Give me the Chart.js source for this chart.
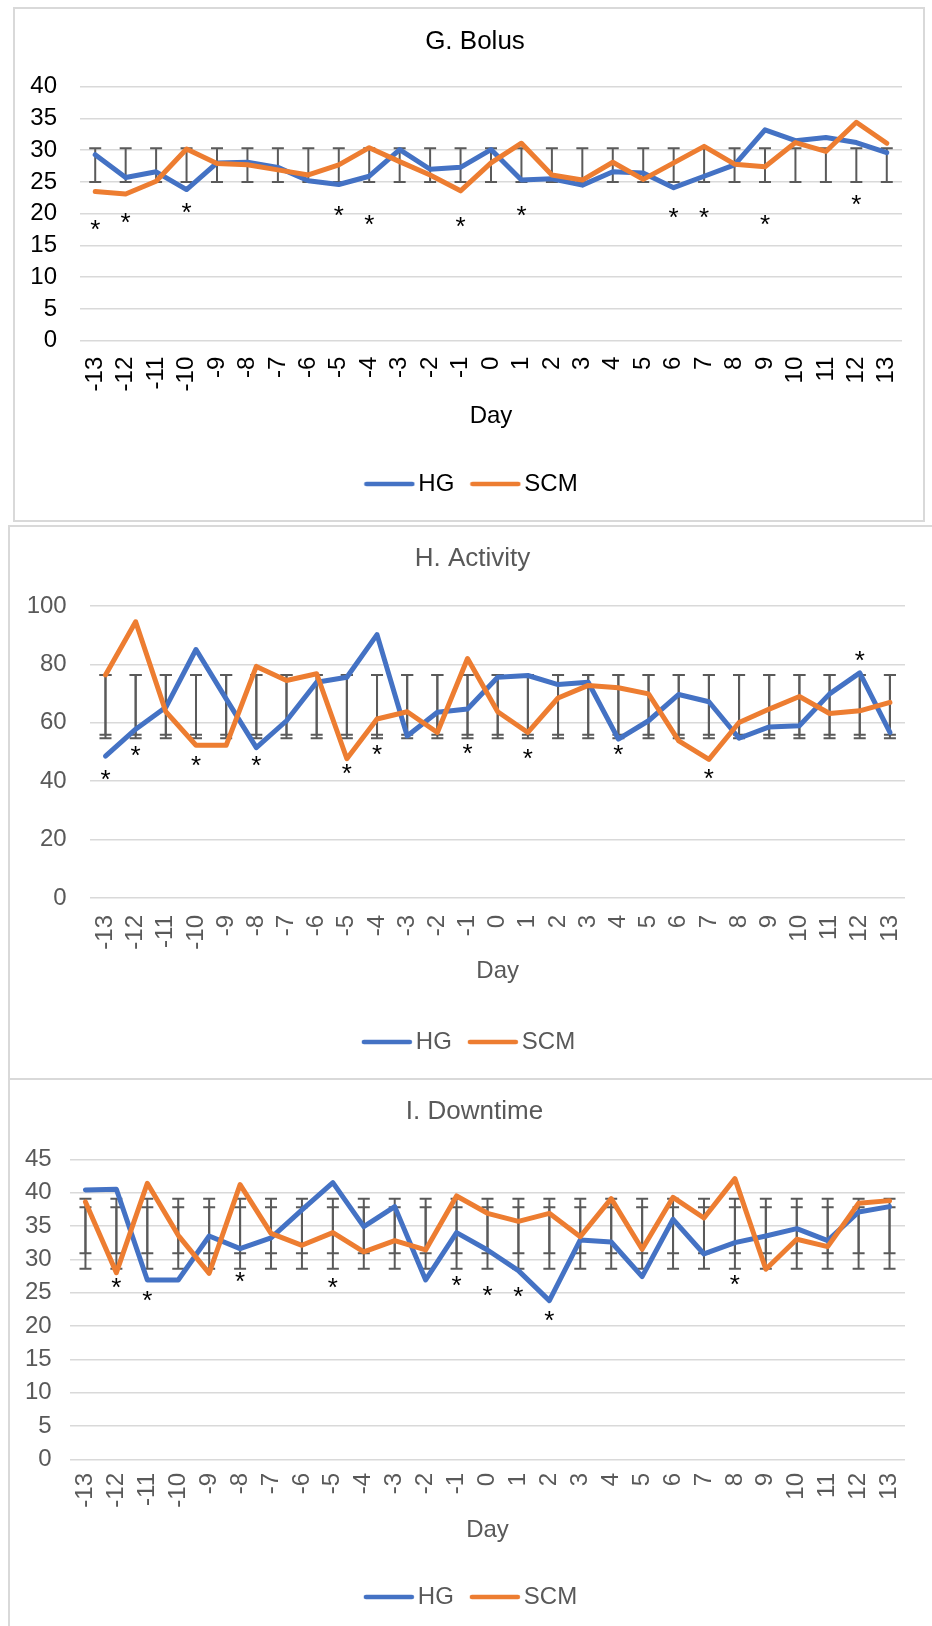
<!DOCTYPE html>
<html>
<head>
<meta charset="utf-8">
<title>Bolus, Activity and Downtime by Day</title>
<script src="https://cdn.jsdelivr.net/npm/chart.js@4/dist/chart.umd.min.js"></script>
<style>
  html, body { margin: 0; padding: 0; background: #fff; }
  body { width: 932px; height: 1626px; position: relative; overflow: hidden; }
  .frame { position: absolute; box-sizing: border-box; border: 2px solid #d9d9d9; }
  canvas { position: absolute; }
</style>
</head>
<body>
<div class="frame" style="left:13px;top:7px;width:912px;height:515px"></div>
<div class="frame" style="left:8px;top:525px;width:930px;height:555px"></div>
<div class="frame" style="left:8px;top:1078px;width:930px;height:600px"></div>
<canvas id="bolus" style="left:13px;top:7px"></canvas>
<canvas id="activity" style="left:8px;top:525px"></canvas>
<canvas id="downtime" style="left:8px;top:1079px"></canvas>
<script>
// Day axis
const days = ['-13','-12','-11','-10','-9','-8','-7','-6','-5','-4','-3','-2','-1','0',
              '1','2','3','4','5','6','7','8','9','10','11','12','13'];
const seriesNames = ['HG', 'SCM'];

// G. Bolus
const bolusHG  = [29.3, 25.7, 26.6, 23.8, 28.0, 28.1, 27.3, 25.2, 24.6, 25.9, 30.1, 27.0, 27.3, 30.1,
                  25.3, 25.5, 24.5, 26.6, 26.4, 24.1, 25.9, 27.7, 33.2, 31.5, 32.0, 31.2, 29.6];
const bolusSCM = [23.5, 23.1, 25.1, 30.2, 27.9, 27.7, 26.9, 26.1, 27.7, 30.4, 28.2, 26.1, 23.6, 28.0,
                  31.1, 26.1, 25.3, 28.1, 25.4, 28.0, 30.6, 27.8, 27.4, 31.2, 29.8, 34.4, 31.1];
const bolusRanges = [[25.0, 30.3]];
const bolusStarDays   = [-13, -12, -10, -5, -4, -1, 1, 6, 7, 9, 12];
const bolusStarValues = [18.4, 19.6, 21.2, 20.7, 19.2, 19.0, 20.6, 20.4, 20.4, 19.2, 22.4];
const bolusTicks = [0, 40, 5];

// H. Activity
const activityHG  = [48.6, 57.8, 65.3, 85.1, 68.2, 51.5, 60.7, 73.9, 75.6, 90.2, 55.5, 63.6, 64.7, 75.6,
                     76.2, 73.1, 73.9, 54.4, 60.7, 69.7, 67.2, 54.7, 58.6, 59.0, 69.9, 77.1, 56.7];
const activitySCM = [76.4, 94.6, 63.8, 52.3, 52.3, 79.3, 74.5, 76.8, 47.7, 61.3, 63.8, 56.7, 82.0, 63.8,
                     56.7, 68.5, 72.8, 72.0, 69.9, 53.8, 47.5, 60.1, 64.7, 69.0, 63.2, 64.1, 67.0];
const activityRanges = [[54.7, 76.4], [55.9, 76.4]];
const activityStarDays   = [-13, -12, -10, -8, -5, -4, -1, 1, 4, 7, 12];
const activityStarValues = [42.5, 50.9, 47.5, 47.5, 44.6, 51.1, 51.5, 49.8, 51.3, 42.9, 83.3];
const activityTicks = [0, 100, 20];

// I. Downtime
const downtimeHG  = [40.4, 40.5, 26.9, 26.9, 33.5, 31.6, 33.2, 37.4, 41.5, 34.9, 37.9, 26.9, 34.0, 31.4,
                     28.3, 23.8, 32.9, 32.6, 27.4, 36.0, 30.8, 32.5, 33.5, 34.6, 32.8, 37.1, 37.9];
const downtimeSCM = [38.6, 28.0, 41.4, 33.6, 27.9, 41.2, 33.9, 32.1, 34.0, 31.1, 32.8, 31.4, 39.5, 36.9,
                     35.7, 36.9, 33.4, 39.1, 31.5, 39.3, 36.2, 42.1, 28.5, 33.0, 31.9, 38.4, 38.8];
const downtimeRanges = [[28.6, 39.1], [30.9, 37.8]];
const downtimeStarDays   = [-12, -11, -8, -5, -1, 0, 1, 2, 8];
const downtimeStarValues = [26.7, 24.8, 27.6, 26.7, 27.0, 25.5, 25.3, 21.8, 27.2];
const downtimeTicks = [0, 45, 5];

const COLORS = ['#4472C4', '#ED7D31'];
const FONT = "'Liberation Sans', Arial, Helvetica, sans-serif";
Chart.defaults.font.family = FONT;

// Short rounded stroke used as the legend key for each series
function legendStroke(color) {
  const c = document.createElement('canvas');
  c.width = 52; c.height = 8;
  const g = c.getContext('2d');
  g.strokeStyle = color;
  g.lineWidth = 4.5;
  g.lineCap = 'round';
  g.beginPath();
  g.moveTo(3, 4); g.lineTo(49, 4);
  g.stroke();
  return c;
}
const STROKES = COLORS.map(legendStroke);

// Range bars behind the lines, significance asterisks above them
const markers = {
  id: 'markers',
  beforeDatasetsDraw(chart, args, opts) {
    const {ctx, scales: {x, y}} = chart;
    ctx.save();
    ctx.strokeStyle = '#5a5a5a';
    ctx.lineWidth = 2;
    chart.data.labels.forEach((lab, i) => {
      const px = x.getPixelForValue(i);
      opts.ranges.forEach(([lo, hi]) => {
        const yl = y.getPixelForValue(lo), yh = y.getPixelForValue(hi);
        ctx.beginPath();
        ctx.moveTo(px, yl); ctx.lineTo(px, yh);
        ctx.moveTo(px - 6, yl); ctx.lineTo(px + 6, yl);
        ctx.moveTo(px - 6, yh); ctx.lineTo(px + 6, yh);
        ctx.stroke();
      });
    });
    ctx.restore();
  },
  afterDatasetsDraw(chart, args, opts) {
    const {ctx, scales: {x, y}} = chart;
    const size = 26;
    ctx.save();
    ctx.fillStyle = '#000';
    ctx.font = size + 'px ' + FONT;
    ctx.textAlign = 'center';
    ctx.textBaseline = 'alphabetic';
    opts.starDays.forEach((d, k) => {
      const px = x.getPixelForValue(chart.data.labels.indexOf(String(d)));
      const py = y.getPixelForValue(opts.starValues[k]);
      ctx.fillText('*', px, py + size * 0.56);
    });
    ctx.restore();
  }
};

function makeChart(id, cfg) {
  const cv = document.getElementById(id);
  cv.width = cfg.w; cv.height = cfg.h;
  cv.style.width = cfg.w + 'px'; cv.style.height = cfg.h + 'px';
  const [ymin, ymax, step] = cfg.ticks;
  return new Chart(cv, {
    type: 'line',
    data: {
      labels: days,
      datasets: cfg.series.map((vals, i) => ({
        label: seriesNames[i],
        data: vals,
        yAxisID: 'y',
        borderColor: COLORS[i],
        backgroundColor: COLORS[i],
        borderWidth: 5,
        pointRadius: 0,
        pointHoverRadius: 0,
        tension: 0,
        fill: false,
        borderJoinStyle: 'round',
        borderCapStyle: 'round',
        order: i === 0 ? 1 : 0
      }))
    },
    options: {
      responsive: false,
      animation: false,
      events: [],
      layout: { padding: { left: 0, right: 0, top: 0, bottom: cfg.padBottom } },
      plugins: {
        title: {
          display: true,
          text: cfg.title,
          color: cfg.color,
          font: { size: 26, weight: 'normal', lineHeight: 1.2 },
          padding: { top: cfg.titleTop, bottom: cfg.titleBottom }
        },
        legend: {
          position: 'bottom',
          labels: {
            usePointStyle: true,
            pointStyleWidth: 34,
            boxHeight: 24,
            padding: 24,
            color: cfg.color,
            font: { size: 24 },
            generateLabels: (chart) => chart.data.datasets.map((ds, i) => ({
              text: ds.label,
              pointStyle: STROKES[i],
              fillStyle: ds.borderColor,
              strokeStyle: ds.borderColor,
              lineWidth: 0,
              fontColor: cfg.color,
              hidden: false,
              datasetIndex: i
            }))
          }
        },
        tooltip: { enabled: false },
        markers: { ranges: cfg.ranges, starDays: cfg.starDays, starValues: cfg.starValues }
      },
      scales: {
        x: {
          offset: true,
          grid: { display: false, drawTicks: false },
          border: { display: false },
          ticks: {
            autoSkip: false, minRotation: 90, maxRotation: 90,
            padding: cfg.xPad, color: cfg.color, font: { size: 24 }
          },
          title: {
            display: true, text: 'Day', color: cfg.color,
            font: { size: 24, lineHeight: 1.2 },
            padding: { top: 0, bottom: cfg.dayBottom }
          },
          afterFit: (s) => { s.height = cfg.xHeight; }
        },
        y: {
          min: ymin, max: ymax,
          grid: { color: '#d9d9d9', lineWidth: 1.5, drawTicks: false },
          border: { display: false },
          ticks: { stepSize: step, autoSkip: false, padding: cfg.yPad, color: cfg.color, font: { size: 24 } },
          afterFit: (s) => { s.width = cfg.yWidth; }
        },
        // empty right-hand margin of the plot
        yMargin: {
          axis: 'y',
          position: 'right',
          grid: { display: false, drawTicks: false },
          border: { display: false },
          ticks: { display: false },
          afterFit: (s) => { s.width = cfg.rightMargin; }
        }
      }
    },
    plugins: [markers]
  });
}

makeChart('bolus', {
  w: 924, h: 515, title: 'G. Bolus', color: '#000000',
  series: [bolusHG, bolusSCM], ticks: bolusTicks, ranges: bolusRanges,
  starDays: bolusStarDays, starValues: bolusStarValues,
  rightMargin: 35, padBottom: 16, titleTop: 19.1, titleBottom: 29.4,
  xHeight: 107.3, xPad: 16, dayBottom: 17.1, yWidth: 67, yPad: 23
});

makeChart('activity', {
  w: 929, h: 554, title: 'H. Activity', color: '#595959',
  series: [activityHG, activitySCM], ticks: activityTicks, ranges: activityRanges,
  starDays: activityStarDays, starValues: activityStarValues,
  rightMargin: 32, padBottom: 15, titleTop: 18.4, titleBottom: 31.4,
  xHeight: 108, xPad: 17, dayBottom: 19.9, yWidth: 82.4, yPad: 23.7
});

makeChart('downtime', {
  w: 933, h: 547, title: 'I. Downtime', color: '#595959',
  series: [downtimeHG, downtimeSCM], ticks: downtimeTicks, ranges: downtimeRanges,
  starDays: downtimeStarDays, starValues: downtimeStarValues,
  rightMargin: 36, padBottom: 7, titleTop: 17.4, titleBottom: 31.7,
  xHeight: 101.7, xPad: 13.7, dayBottom: 16.6, yWidth: 62, yPad: 18.3
});
</script>
</body>
</html>
